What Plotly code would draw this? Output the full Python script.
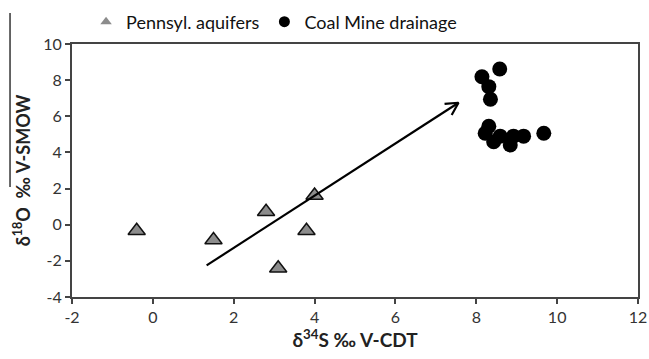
import math
import plotly.graph_objects as go

# Data
aquifer_x = [-0.4, 1.5, 2.8, 3.1, 3.8, 4.0]
aquifer_y = [-0.33, -0.85, 0.72, -2.41, -0.33, 1.62]

mine_x = [8.58, 8.14, 8.31, 8.35, 8.31, 8.22, 8.43, 8.59, 8.84, 8.92, 9.17, 9.67]
mine_y = [8.62, 8.19, 7.64, 6.94, 5.45, 5.06, 4.59, 4.90, 4.41, 4.90, 4.90, 5.06]

arrow_start = (1.33, -2.25)
arrow_end = (7.56, 6.75)

x_ticks = [-2, 0, 2, 4, 6, 8, 10, 12]
y_ticks = [-4, -2, 0, 2, 4, 6, 8, 10]

FONT = "Lato, 'Open Sans', sans-serif"

W, H = 649, 359
ML, MR, MT, MB = 72, 11, 44, 62
XR = [-2, 12]
YR = [-4, 10]

fig = go.Figure()
fig.add_trace(go.Scatter(
    x=aquifer_x, y=aquifer_y, mode="markers", name="Pennsyl. aquifers",
    showlegend=False,
    marker=dict(symbol="triangle-up", size=15, color="#8c8c8c",
                line=dict(color="#111111", width=1.5)),
))
fig.add_trace(go.Scatter(
    x=mine_x, y=mine_y, mode="markers", name="Coal Mine drainage",
    showlegend=False,
    marker=dict(symbol="circle", size=15, color="#000000",
                line=dict(color="#000000", width=0)),
))
# legend entries with smaller symbols
fig.add_trace(go.Scatter(
    x=[None], y=[None], mode="markers", name="Pennsyl. aquifers",
    marker=dict(symbol="triangle-up", size=10, color="#8c8c8c",
                line=dict(color="#8c8c8c", width=0)),
))
fig.add_trace(go.Scatter(
    x=[None], y=[None], mode="markers", name="Coal Mine drainage",
    marker=dict(symbol="circle", size=11, color="#000000"),
))

# arrow: shaft + open V head (head computed in pixel space)
sx = (W - ML - MR) / (XR[1] - XR[0])
sy = (H - MT - MB) / (YR[1] - YR[0])
dxp = (arrow_end[0] - arrow_start[0]) * sx
dyp = (arrow_end[1] - arrow_start[1]) * sy
ang = math.atan2(dyp, dxp)
L = 14
wings = []
for a in (ang + math.radians(152), ang - math.radians(152)):
    wings.append((arrow_end[0] + L * math.cos(a) / sx, arrow_end[1] + L * math.sin(a) / sy))
ax_ = [arrow_start[0], arrow_end[0], None, wings[0][0], arrow_end[0], wings[1][0]]
ay_ = [arrow_start[1], arrow_end[1], None, wings[0][1], arrow_end[1], wings[1][1]]
fig.add_trace(go.Scatter(x=ax_, y=ay_, mode="lines", showlegend=False,
                         line=dict(color="#000000", width=2.2), hoverinfo="skip"))

# cropping artifact line at left edge
fig.add_shape(type="line", xref="paper", yref="paper",
              x0=-0.1095, x1=-0.1095, y0=0.435, y1=1.1225,
              line=dict(color="#000000", width=1.2))

axis_common = dict(
    showgrid=False, zeroline=False, showline=True, linecolor="#444444",
    linewidth=2, mirror=True, ticks="outside", ticklen=5, tickwidth=1.5,
    tickcolor="#444444", tickfont=dict(family=FONT, size=16, color="#333333"),
)

fig.update_xaxes(range=XR, tickvals=x_ticks, ticktext=[str(v) for v in x_ticks],
                 title=dict(text="<b>δ<sup>34</sup>S ‰ V-CDT</b>",
                            font=dict(family=FONT, size=19, color="#222222"),
                            standoff=6),
                 **axis_common)
fig.update_yaxes(range=YR, tickvals=y_ticks, ticktext=[str(v) for v in y_ticks],
                 title=dict(text="<b>δ<sup>18</sup>O  ‰ V-SMOW</b>",
                            font=dict(family=FONT, size=18, color="#222222"),
                            standoff=8),
                 **axis_common)

fig.update_layout(
    width=W, height=H,
    margin=dict(l=ML, r=MR, t=MT, b=MB, autoexpand=False),
    paper_bgcolor="white", plot_bgcolor="white",
    font=dict(family=FONT),
    legend=dict(orientation="h", x=0.357, xanchor="center",
                y=1.087, yanchor="middle",
                font=dict(family=FONT, size=18, color="#111111"),
                itemwidth=30, tracegroupgap=0, bgcolor="rgba(0,0,0,0)"),
    showlegend=True,
)

fig.write_html("out.html")
